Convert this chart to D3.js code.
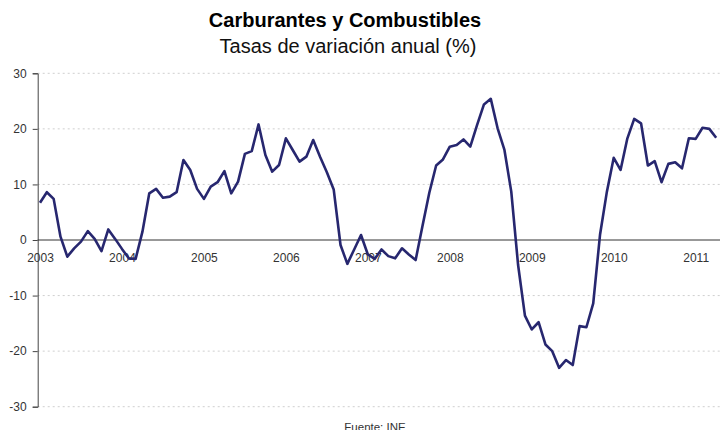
<!DOCTYPE html>
<html>
<head>
<meta charset="utf-8">
<script src="https://cdn.jsdelivr.net/npm/d3@7"></script>
<style>
  html, body { margin: 0; padding: 0; background: #fff; }
  svg { display: block; font-family: "Liberation Sans", Arial, sans-serif; }
</style>
</head>
<body>
<svg id="chart" width="720" height="430"></svg>
<script>
// Monthly series: Jan 2003 .. Apr 2011 (annual variation rate, %)
const startYear = 2003;
const values = [
  6.7, 8.6, 7.4, 0.6, -3.0, -1.5, -0.3, 1.6, 0.2, -2.0, 1.9, 0.2,          // 2003
  -1.6, -3.3, -3.4, 1.5, 8.4, 9.2, 7.6, 7.8, 8.6, 14.4, 12.6, 9.2,         // 2004
  7.4, 9.6, 10.4, 12.4, 8.4, 10.5, 15.5, 16.0, 20.8, 15.3, 12.3, 13.5,     // 2005
  18.3, 16.2, 14.1, 15.0, 18.0, 15.0, 12.2, 9.1, -0.9, -4.3, -1.7, 0.9,    // 2006
  -2.6, -3.4, -1.7, -2.9, -3.3, -1.5, -2.6, -3.6, 2.5, 8.5, 13.4, 14.5,    // 2007
  16.8, 17.1, 18.1, 16.8, 20.7, 24.4, 25.4, 20.1, 16.2, 8.7, -4.5, -13.6,  // 2008
  -16.1, -14.8, -18.8, -20.0, -23.0, -21.6, -22.5, -15.5, -15.7, -11.4, 1.0, 8.7, // 2009
  14.8, 12.6, 18.3, 21.8, 21.0, 13.4, 14.2, 10.4, 13.7, 14.0, 12.9, 18.3,  // 2010
  18.2, 20.2, 20.0, 18.4                                                   // 2011
];
const yearLabels = ["2003", "2004", "2005", "2006", "2007", "2008", "2009", "2010", "2011"];
const yTicks = [-30, -20, -10, 0, 10, 20, 30];
const title = "Carburantes y Combustibles";
const subtitle = "Tasas de variación anual (%)";
const source = "Fuente: INE";

const svg = d3.select("#chart");
const axisX = 37.7, plotRight = 720;
const x = d3.scaleLinear().domain([0, values.length - 1]).range([40, 40 + 6.83 * (values.length - 1)]);
const y = d3.scaleLinear().domain([-30, 30]).range([406.7, 73.3]);

// gridlines
svg.append("g")
  .selectAll("line")
  .data(yTicks.filter(d => d !== 0))
  .join("line")
  .attr("x1", axisX).attr("x2", plotRight)
  .attr("y1", d => y(d)).attr("y2", d => y(d))
  .attr("stroke", "#cfcfcf")
  .attr("stroke-width", 1)
  .attr("stroke-dasharray", "2,3");

// Y axis
const yAxis = d3.axisLeft(y).tickValues(yTicks).tickSize(5).tickPadding(6).tickFormat(d => String(d));
const gy = svg.append("g").attr("transform", `translate(${axisX},0)`).call(yAxis);
gy.select(".domain").attr("stroke", "#444");
gy.selectAll(".tick line").attr("stroke", "#444");
gy.selectAll(".tick text").attr("fill", "#333").style("font-size", "12px")
  .style("font-family", "'Liberation Sans', Arial, sans-serif");

// zero line
svg.append("line")
  .attr("x1", axisX).attr("x2", plotRight)
  .attr("y1", y(0)).attr("y2", y(0))
  .attr("stroke", "#333").attr("stroke-width", 1);

// X axis labels (January of each year)
const xAxis = d3.axisBottom(x)
  .tickValues(yearLabels.map((d, i) => i * 12))
  .tickFormat((d, i) => yearLabels[i])
  .tickSize(0).tickPadding(13);
const gx = svg.append("g").attr("transform", `translate(0,${y(0)})`).call(xAxis);
gx.select(".domain").remove();
gx.selectAll(".tick text").attr("fill", "#333").style("font-size", "12px")
  .style("font-family", "'Liberation Sans', Arial, sans-serif");

// line
const line = d3.line().x((d, i) => x(i)).y(d => y(d));
svg.append("path")
  .datum(values)
  .attr("d", line)
  .attr("fill", "none")
  .attr("stroke", "#27276f")
  .attr("stroke-width", 2.6)
  .attr("stroke-linejoin", "round");

// titles
svg.append("text").attr("x", 345).attr("y", 27).attr("text-anchor", "middle")
  .style("font-size", "20px").style("font-weight", "bold").attr("fill", "#000").text(title);
svg.append("text").attr("x", 348).attr("y", 53).attr("text-anchor", "middle")
  .style("font-size", "20px").attr("fill", "#111").text(subtitle);
svg.append("text").attr("x", 375).attr("y", 431).attr("text-anchor", "middle")
  .style("font-size", "11.5px").attr("fill", "#333").text(source);
</script>
</body>
</html>
